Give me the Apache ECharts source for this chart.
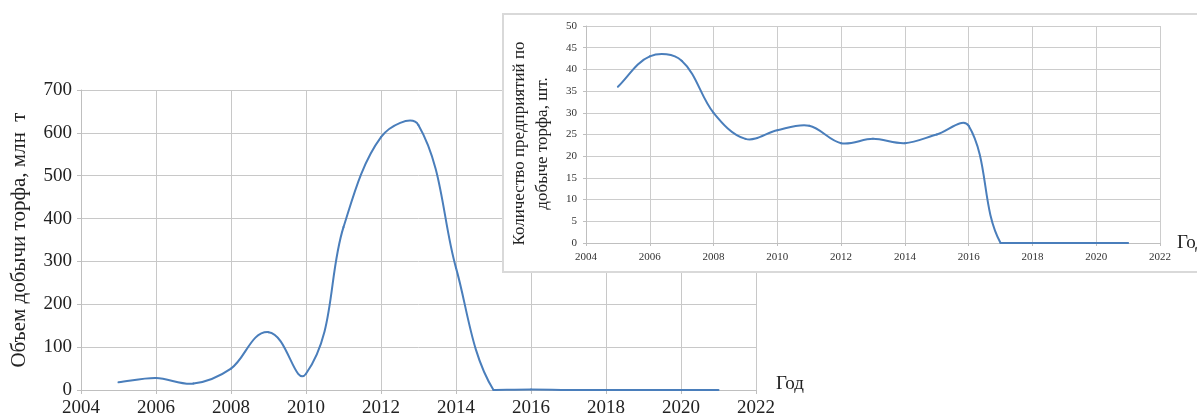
<!DOCTYPE html>
<html><head><meta charset="utf-8">
<script src="https://cdn.jsdelivr.net/npm/echarts@6/dist/echarts.min.js"></script>
<style>
html,body{margin:0;padding:0;width:1197px;height:420px;overflow:hidden;background:#fff;}
#c1{position:absolute;left:0;top:0;width:1197px;height:420px;}
#c2{position:absolute;left:502px;top:13px;width:720px;height:260px;border:2px solid #d9d9d9;box-sizing:border-box;background:#fff;}
</style></head><body>
<div id="c1"></div><div id="c2"></div>
<script>
// Data
const years = [2005,2006,2007,2008,2009,2010,2011,2012,2013,2014,2015,2016,2017,2018,2019,2020,2021];
const peatVolume = [18,28,15,50,135,38,380,590,618,285,0,1,0,0,0,0,0];   // млн т
const enterprises = [36,43,42,30,24,26,27,23,24,23,25,27,0,0,0,0,0];    // шт.
const yearTicks = [2004,2006,2008,2010,2012,2014,2016,2018,2020,2022];
const volumeTicks = [0,100,200,300,400,500,600,700];
const enterpriseTicks = [0,5,10,15,20,25,30,35,40,45,50];

const serif = 'Liberation Serif';
const lineColor = '#4a7ebb';

// Excel-like smoothed line: each data item draws the Bezier segment to the next point,
// positions obtained from the axes via api.coord.
function smoothLine(xs, ys, color) {
  const data = xs.map((x, i) => [x, ys[i]]);
  const n = data.length;
  return {
    type: 'custom', data: data, clip: false, encode: {x: 0, y: 1},
    renderItem: function (params, api) {
      const i = params.dataIndex;
      if (i >= n - 1) return null;
      const P = k => api.coord(data[Math.max(0, Math.min(n - 1, k))]);
      const p0 = P(i - 1), p1 = P(i), p2 = P(i + 1), p3 = P(i + 2);
      const base = api.coord([data[i][0], 0])[1];
      const seg = Math.hypot(p2[0] - p1[0], p2[1] - p1[1]);
      const dir = (a, b) => { const dx = b[0] - a[0], dy = b[1] - a[1]; const l = Math.hypot(dx, dy) || 1; return [dx / l, dy / l]; };
      const t1 = dir(p0, p2), t2 = dir(p1, p3);
      const k = seg / 3;
      const c1 = [p1[0] + t1[0] * k, Math.min(base, p1[1] + t1[1] * k)];
      const c2 = [p2[0] - t2[0] * k, Math.min(base, p2[1] - t2[1] * k)];
      return {
        type: 'bezierCurve',
        shape: {x1: p1[0], y1: p1[1], x2: p2[0], y2: p2[1], cpx1: c1[0], cpy1: c1[1], cpx2: c2[0], cpy2: c2[1]},
        style: {stroke: color, lineWidth: 2, fill: null, lineCap: 'round'}
      };
    }
  };
}

const c1 = echarts.init(document.getElementById('c1'), null, {renderer:'canvas'});
c1.setOption({
  animation:false,
  grid:{left:81, top:90, width:675, height:300, outerBoundsMode:'none'},
  xAxis:{
    type:'value', min:yearTicks[0], max:yearTicks[yearTicks.length-1], interval:2,
    axisLine:{lineStyle:{color:'#bfbfbf', width:1}},
    axisTick:{show:true, length:4, lineStyle:{color:'#bfbfbf'}},
    splitLine:{show:true, lineStyle:{color:'#c8c8c8', width:1}},
    axisLabel:{fontFamily:serif, fontSize:19, color:'#222', margin:9, formatter:v=>String(v)},
    name:'Год', nameLocation:'end', nameGap:20,
    nameTextStyle:{fontFamily:serif, fontSize:19, color:'#222', verticalAlign:'bottom', align:'left', padding:[0,0,-4,0]}
  },
  yAxis:{
    type:'value', min:volumeTicks[0], max:volumeTicks[volumeTicks.length-1], interval:100,
    axisLine:{show:true, lineStyle:{color:'#bfbfbf', width:1}},
    axisTick:{show:true, length:4, lineStyle:{color:'#bfbfbf'}},
    splitLine:{show:true, lineStyle:{color:'#c8c8c8', width:1}},
    axisLabel:{fontFamily:serif, fontSize:19, color:'#222', margin:9, formatter:v=>String(v)},
    name:'Объем добычи торфа, млн  т', nameLocation:'middle', nameGap:51,
    nameTextStyle:{fontFamily:serif, fontSize:21, color:'#222'}
  },
  series:[smoothLine(years, peatVolume, lineColor)]
});

const c2 = echarts.init(document.getElementById('c2'), null, {renderer:'canvas'});
c2.setOption({
  animation:false,
  grid:{left:82, top:11, width:574, height:217, outerBoundsMode:'none'},
  xAxis:{
    type:'value', min:yearTicks[0], max:yearTicks[yearTicks.length-1], interval:2,
    axisLine:{lineStyle:{color:'#bfbfbf', width:1}},
    axisTick:{show:true, length:3, lineStyle:{color:'#bfbfbf'}},
    splitLine:{show:true, lineStyle:{color:'#cccccc', width:1}},
    axisLabel:{fontFamily:serif, fontSize:11, color:'#333', margin:9, formatter:v=>String(v)},
    name:'Год', nameLocation:'end', nameGap:9,
    nameTextStyle:{fontFamily:serif, fontSize:19, color:'#222', verticalAlign:'middle', align:'left'}
  },
  yAxis:{
    type:'value', min:enterpriseTicks[0], max:enterpriseTicks[enterpriseTicks.length-1], interval:5,
    axisLine:{show:true, lineStyle:{color:'#bfbfbf', width:1}},
    axisTick:{show:true, length:3, lineStyle:{color:'#bfbfbf'}},
    splitLine:{show:true, lineStyle:{color:'#cccccc', width:1}},
    axisLabel:{fontFamily:serif, fontSize:11, color:'#333', margin:9, formatter:v=>String(v)},
    name:'Количество предприятий по\nдобыче торфа, шт.', nameLocation:'middle', nameGap:32,
    nameTextStyle:{fontFamily:serif, fontSize:17, color:'#222', lineHeight:23, padding:[0,18,0,0]}
  },
  series:[smoothLine(years, enterprises, lineColor)]
});
</script>
</body></html>
